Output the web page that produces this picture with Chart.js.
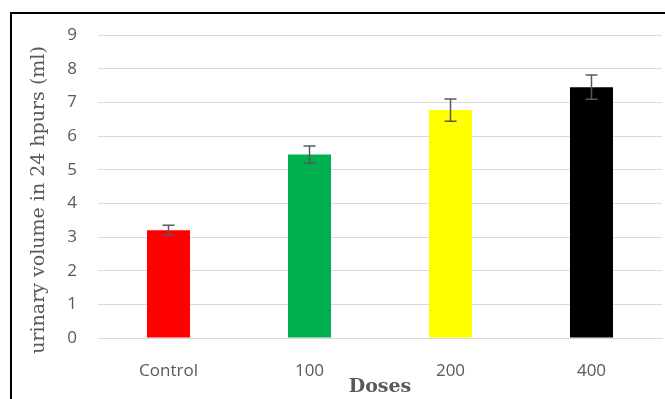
<!DOCTYPE html>
<html>
<head>
<meta charset="utf-8">
<script src="https://cdn.jsdelivr.net/npm/chart.js@4/dist/chart.umd.min.js"></script>
<style>
  html, body { margin: 0; padding: 0; background: #fff; }
  #wrap { position: relative; width: 665px; height: 399px; overflow: hidden; }
  #frame { position: absolute; left: 10px; top: 12px; width: 700px; height: 420px;
           border-left: 2px solid #000; border-top: 2px solid #000; }
  canvas { position: absolute; left: 0; top: 0; }
</style>
</head>
<body>
<div id="wrap">
  <div id="frame"></div>
  <canvas id="myChart" width="665" height="399"></canvas>
</div>
<script>
// datos
const doses = ['Control', '100', '200', '400'];
const volumen = [3.2, 5.45, 6.77, 7.45];
const errores = [0.15, 0.25, 0.33, 0.36];
const colores = ['#ff0000', '#00b050', '#ffff00', '#000000'];

const tituloY = 'urinary volume in 24 hpurs (ml)';
const tituloX = 'Doses';

//Plugin que dibuja las barras de error y los titulos de los ejes
const extras = {
    id: 'extras',
    afterDatasetsDraw(chart) {
        const ctx = chart.ctx;
        const x = chart.scales.x;
        const y = chart.scales.y;
        ctx.save();
        ctx.strokeStyle = '#595959';
        ctx.lineWidth = 1.5;
        volumen.forEach((v, i) => {
            const px = x.getPixelForValue(i);
            const top = y.getPixelForValue(v + errores[i]);
            const bot = y.getPixelForValue(v - errores[i]);
            ctx.beginPath();
            ctx.moveTo(px, top);
            ctx.lineTo(px, bot);
            ctx.moveTo(px - 6, top);
            ctx.lineTo(px + 6, top);
            ctx.moveTo(px - 6, bot);
            ctx.lineTo(px + 6, bot);
            ctx.stroke();
        });
        ctx.restore();
    },
    afterDraw(chart) {
        const ctx = chart.ctx;
        const area = chart.chartArea;
        ctx.save();
        ctx.fillStyle = '#595959';
        ctx.textAlign = 'center';
        ctx.textBaseline = 'middle';
        ctx.font = 'bold 19px "DejaVu Serif"';
        ctx.fillText(tituloX, (area.left + area.right) / 2, 387);
        ctx.translate(39, 200);
        ctx.rotate(-Math.PI / 2);
        ctx.font = '19px "DejaVu Serif"';
        ctx.fillText(tituloY, 0, 0);
        ctx.restore();
    }
};

new Chart(document.getElementById('myChart'), {
    type: 'bar',
    data: {
        labels: doses,
        datasets: [{
            data: volumen,
            backgroundColor: colores,
            borderWidth: 0,
            barPercentage: 0.305,
            categoryPercentage: 1
        }]
    },
    options: {
        responsive: false,
        animation: false,
        layout: { padding: { top: 35, right: 3, left: 0, bottom: 0 } },
        plugins: {
            legend: { display: false },
            tooltip: { enabled: false }
        },
        scales: {
            x: {
                grid: { display: false },
                border: { display: true, color: '#d9d9d9', width: 1 },
                ticks: {
                    color: '#595959',
                    font: { family: 'Open Sans', size: 17 },
                    padding: 15
                },
                afterFit(scale) { scale.height = 61; }
            },
            y: {
                min: 0,
                max: 9,
                grid: { color: '#d9d9d9', lineWidth: 1, drawTicks: false },
                border: { display: false },
                ticks: {
                    stepSize: 1,
                    color: '#595959',
                    font: { family: 'Open Sans', size: 17 },
                    padding: 21
                },
                afterFit(scale) { scale.width = 98; }
            }
        }
    },
    plugins: [extras]
});
</script>
</body>
</html>
